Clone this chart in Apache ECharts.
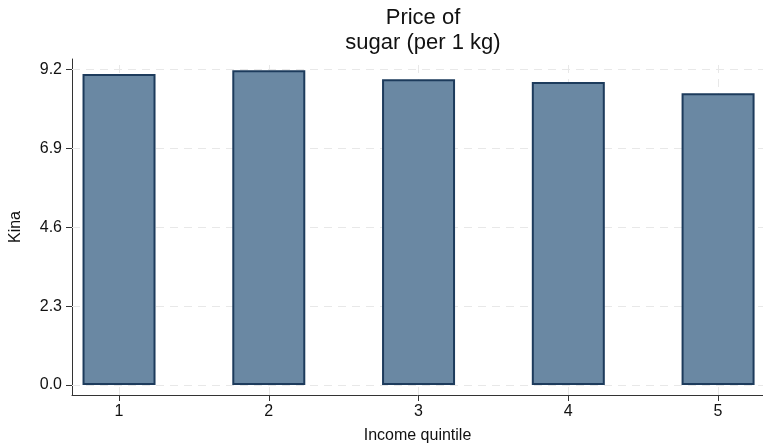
<!DOCTYPE html>
<html><head><meta charset="utf-8">
<script src="https://cdn.jsdelivr.net/npm/echarts@6/dist/echarts.min.js"></script>
<style>html,body{margin:0;padding:0;background:#fff}#c{width:763px;height:443px}</style>
</head><body><div id="c"></div>
<script>
const categories = [1, 2, 3, 4, 5];
const values = [9.06, 9.17, 8.91, 8.83, 8.50];
const yTicks = [0, 2.3, 4.6, 6.9, 9.2];
const titleText = 'Price of\nsugar (per 1 kg)';
const xName = 'Income quintile';
const yName = 'Kina';

const font = 'Liberation Sans, Arial, sans-serif';
const chart = echarts.init(document.getElementById('c'), null, {renderer: 'canvas'});
chart.setOption({
  animation: false,
  backgroundColor: '#fff',
  title: {
    text: titleText, left: 418, top: 0, textAlign: 'center',
    textStyle: {fontFamily: font, fontSize: 22, fontWeight: 'normal', color: '#111', lineHeight: 25}
  },
  grid: {left: 72, right: 0, top: 59, bottom: 48, containLabel: false, outerBoundsMode: 'none'},
  xAxis: {
    type: 'value', min: 0.686, max: 5.3,
    name: xName, nameLocation: 'middle', nameGap: 33,
    nameTextStyle: {fontFamily: font, fontSize: 16, color: '#111'},
    axisLine: {show: true, onZero: false, lineStyle: {color: '#333', width: 1}},
    axisTick: {show: true, length: 6, customValues: categories, lineStyle: {color: '#333'}},
    axisLabel: {customValues: categories, fontFamily: font, fontSize: 16, color: '#111', margin: 9, formatter: v => String(v)},
    splitLine: {show: false}
  },
  yAxis: {
    type: 'value', min: -0.29, max: 9.5,
    name: yName, nameLocation: 'middle', nameGap: 48, nameRotate: 90,
    nameTextStyle: {fontFamily: font, fontSize: 16, color: '#111'},
    axisLine: {show: true, onZero: false, lineStyle: {color: '#333', width: 1}},
    axisTick: {show: true, length: 6, customValues: yTicks, lineStyle: {color: '#333'}},
    axisLabel: {customValues: yTicks, fontFamily: font, fontSize: 16, color: '#111', margin: 10, formatter: v => v.toFixed(1)},
    splitLine: {show: false}
  },
  series: [{
    type: 'bar',
    data: categories.map((c, i) => [c, values[i]]),
    barWidth: 73,
    itemStyle: {color: '#6a88a3', borderColor: '#1d3b5c', borderWidth: 2},
    z: 3,
    markLine: {
      silent: true, symbol: 'none', label: {show: false},
      lineStyle: {color: '#e8e8e8', type: [8, 6], width: 1},
      data: yTicks.map(v => ({yAxis: v})).concat(categories.map(c => ({xAxis: c}))),
      z: 1
    }
  }]
});
</script></body></html>
